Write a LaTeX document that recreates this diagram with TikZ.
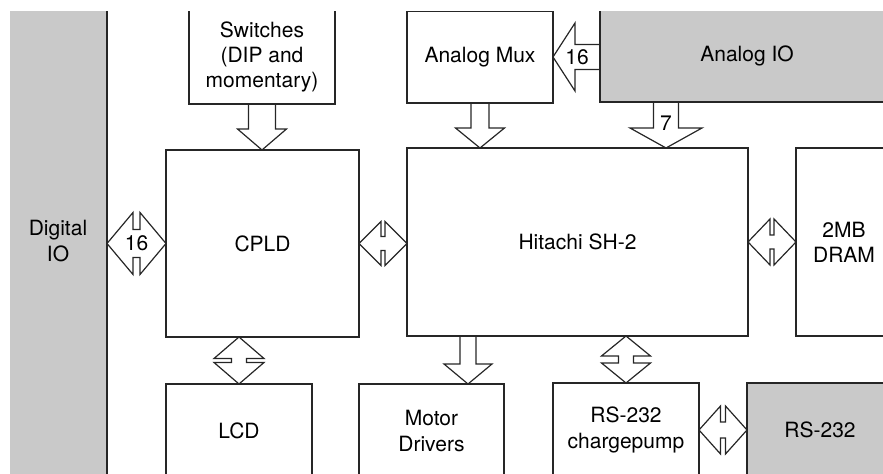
\documentclass[tikz,border=0pt]{standalone}
\usepackage{fontspec}
\setmainfont{TeX Gyre Heros}
\definecolor{scangray}{HTML}{C9C9C9}
\definecolor{inkline}{HTML}{262626}
\usetikzlibrary{calc}

% bus arrow pointing down: tail #1, tip #2, shaft half #3, head half #4, head length #5
\newcommand{\busdown}[5]{%
  \draw[bus] ($(#1 -| #2)+(-#3,0)$) -- ($(#2)+(-#3,-#5)$) -- ($(#2)+(-#4,-#5)$)
    -- (#2) -- ($(#2)+(#4,-#5)$) -- ($(#2)+(#3,-#5)$) -- ($(#1 -| #2)+(#3,0)$);}
% bus arrow pointing left
\newcommand{\busleft}[5]{%
  \draw[bus] ($(#2 -| #1)+(0,-#3)$) -- ($(#2)+(#5,-#3)$) -- ($(#2)+(#5,-#4)$)
    -- (#2) -- ($(#2)+(#5,#4)$) -- ($(#2)+(#5,#3)$) -- ($(#2 -| #1)+(0,#3)$);}
% two-way bus, left tip #1, right tip #2
\newcommand{\bidirh}[5]{%
  \draw[bus] (#1) -- ($(#1)+(#5,-#4)$) -- ($(#1)+(#5,-#3)$) -- ($(#2)+(-#5,-#3)$)
    -- ($(#2)+(-#5,-#4)$) -- (#2) -- ($(#2)+(-#5,#4)$) -- ($(#2)+(-#5,#3)$)
    -- ($(#1)+(#5,#3)$) -- ($(#1)+(#5,#4)$) -- cycle;}
% two-way bus, top tip #1, bottom tip #2
\newcommand{\bidirv}[5]{%
  \draw[bus] (#1) -- ($(#1)+(#4,#5)$) -- ($(#1)+(#3,#5)$) -- ($(#2)+(#3,-#5)$)
    -- ($(#2)+(#4,-#5)$) -- (#2) -- ($(#2)+(-#4,-#5)$) -- ($(#2)+(-#3,-#5)$)
    -- ($(#1)+(-#3,#5)$) -- ($(#1)+(-#4,#5)$) -- cycle;}

\begin{document}
\begin{tikzpicture}[x=0.5pt, y=-0.5pt, font=\fontsize{10.5}{12.6}\selectfont,
    box/.style={draw=inkline, line width=0.6pt, inner sep=0pt, outer sep=0pt, align=center},
    graybox/.style={box, fill=scangray},
    boxsize/.style 2 args={minimum width=#1*0.5pt, minimum height=#2*0.5pt},
    bus/.style={draw=inkline, line width=0.6pt, line join=miter}]
  \useasboundingbox (0,0) rectangle (883,474);
  \clip (10,12) rectangle (883,474);
  % Top row
  \node[graybox, boxsize={98}{492}] (digio) at (58,241) {Digital\\IO};
  \node[box, boxsize={146}{94}] (switches) at (262,57) {Switches\\(DIP and\\momentary)};
  \node[box, boxsize={146}{92}] (mux) at (480,57) {Analog Mux};
  \node[graybox, boxsize={294}{92}] (anaio) at (747,56) {Analog IO};
  % Middle row
  \node[box, boxsize={193}{187}] (cpld) at (262.5,243.5) {CPLD};
  \node[box, boxsize={341}{188}] (sh2) at (577.5,242) {Hitachi SH-2};
  \node[box, boxsize={96}{188}] (dram) at (844,242) {2MB\\DRAM};
  % Bottom row
  \node[box, boxsize={146}{94}] (lcd) at (239,431) {LCD};
  \node[box, boxsize={145}{94}] (motor) at (431.5,431) {Motor\\Drivers};
  \node[box, boxsize={146}{94}] (pump) at (626,430) {RS-232\\chargepump};
  \node[graybox, boxsize={146}{94}] (rs232) at (820,430) {RS-232};
  % Arrow tips
  \coordinate (tsw) at (switches.south |- cpld.north);
  \coordinate (tmux) at (mux.south |- sh2.north);
  \coordinate (tana) at ($(anaio.south west |- sh2.north)+(66,0)$);
  \coordinate (tmot) at ($(sh2.south west |- motor.north)+(61,0)$);
  % One-way buses
  \busdown{switches.south}{tsw}{13.5}{24.5}{21}
  \busdown{mux.south}{tmux}{9}{24.5}{20}
  \busdown{anaio.south}{tana}{12.5}{36}{20}
  \node (n7) at ($(tana)+(0,-25)$) {7};
  \busdown{sh2.south}{tmot}{8}{24}{20}
  \busleft{anaio.west}{mux.east}{12.5}{34}{22}
  \node (n16b) at ($(mux.east)+(24,0)$) {16};
  % Two-way buses
  \bidirh{digio.east |- cpld.west}{cpld.west}{14}{31}{26}
  \node (n16a) at ($(digio.east |- cpld.west)!0.5!(cpld.west)$) {16};
  \bidirh{cpld.east}{cpld.east -| sh2.west}{7}{22}{22}
  \bidirh{sh2.east}{sh2.east -| dram.west}{7}{23}{22}
  \bidirh{pump.east}{pump.east -| rs232.west}{8}{24}{21.5}
  \bidirv{lcd.north |- cpld.south}{lcd.north}{7.5}{25}{21.5}
  \bidirv{pump.north |- sh2.south}{pump.north}{7.5}{24.5}{20}
\end{tikzpicture}
\end{document}
